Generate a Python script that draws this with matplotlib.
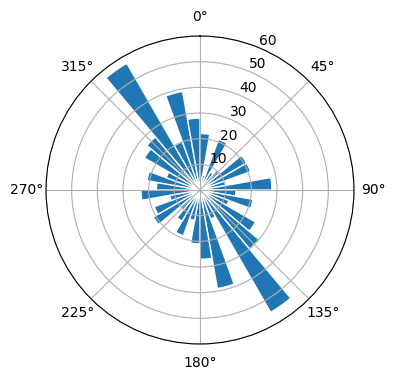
import numpy as np
import matplotlib.pyplot as plt

# bin centres in degrees (clockwise from north) and bar lengths
angles_deg = np.arange(5, 360, 10)
counts = [22, 6, 21, 8, 10, 21, 21, 10, 28,
          14, 21, 12, 25, 30, 55, 12, 39, 27,
          21, 12, 19, 14, 10, 21, 19, 12, 23,
          17, 21, 14, 25, 27, 57, 20, 39, 28]
rticks = [10, 20, 30, 40, 50, 60]

theta = np.deg2rad(angles_deg)
width = np.deg2rad(10)

fig = plt.figure(figsize=(3.96, 3.80), dpi=100)
ax = fig.add_axes([46/396, 36/380, 308/396, 308/380], projection='polar')
ax.bar(theta, counts, width=width, color='C0', edgecolor='white', linewidth=1)
ax.set_theta_zero_location('N')
ax.set_theta_direction(-1)
ax.set_ylim(0, 60)
ax.set_yticks(rticks)
ax.grid(True)

fig.savefig('out.png', dpi=100)
